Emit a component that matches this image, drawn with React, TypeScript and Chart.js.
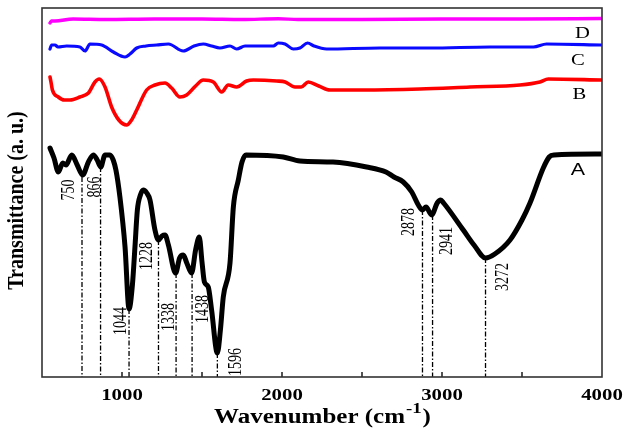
import React, { useEffect, useRef } from 'react';
import { Chart, registerables } from 'chart.js';

Chart.register(...registerables);

// ---- data (wavenumber in cm^-1, transmittance in arbitrary units) ----
const X_MIN = 500;
const X_MAX = 4000;
const Y_MIN = 0;
const Y_MAX = 369;

const xTickLabels = ['1000', '2000', '3000', '4000'];

const wnA = [550,575,602,630,650,686,720,754,790,821,845,867,894,925,945,962,987,1019,1044,1065,1081,1096,1115,1133,1155,1175,1206,1228,1250,1269,1290,1335,1360,1383,1405,1435,1460,1483,1500,1515,1539,1560,1596,1615,1633,1675,1696,1727,1750,1775,2008,2112,2319,2529,2650,2700,2758,2811,2852,2878,2900,2935,2970,2992,3010,3133,3200,3272,3330,3425,3500,3550,3633,3670,3700,4000];
const tA = [229,219,205,214,212,222,212,202,215,222,217,210,222,222,217,207,180,130,68,92,130,167,182,187,184,177,147,137,141,142,132,104,119,122,114,104,127,140,115,95,90,67,24,47,80,114,170,197,215,222,220,216,215,210,205,200,195,185,172,167,170,162,174,177,174,147,132,119,123,137,157,174,209,220,222,223];

const wnB = [550,556,565,602,640,675,737,790,831,858,894,935,980,1029,1060,1092,1154,1206,1269,1310,1362,1404,1460,1508,1571,1623,1664,1717,1779,1821,1967,2020,2081,2120,2164,2230,2300,2506,2862,3175,3487,3612,3664,4000];
const tB = [300,295,287,280,277,277,280,284,295,298,290,270,257,252,257,267,287,292,294,289,280,282,291,297,295,285,292,290,296,297,296,295,290,290,295,291,287,287,288,290,292,295,298,297];

const wnC = [550,560,581,600,654,737,769,800,873,946,1019,1050,1092,1150,1217,1290,1383,1450,1508,1560,1612,1675,1717,1769,1946,1977,2019,2071,2112,2160,2200,2279,2612,2925,3300,3571,3654,4000];
const tC = [328,332,332,330,331,330,326,333,332,325,320,323,329,331,332,333,326,331,333,331,329,331,328,331,331,334,333,328,329,334,331,328,329,329,330,330,333,332];

const wnD = [550,560,581,694,900,1200,1500,1750,1977,2100,2500,3000,3500,4000];
const tD = [354,356,356,358,357.5,358,358,357.5,358.3,357.5,357.5,358,358,358.5];

const seriesNames = ['A', 'B', 'C', 'D'];

const peakWn = [750, 866, 1044, 1228, 1338, 1438, 1596, 2878, 2941, 3272];
const peakTop = [200, 210, 68, 137, 104, 104, 24, 167, 162, 119];
const peakText = ['750', '866', '1044', '1228', '1338', '1438', '1596', '2878', '2941', '3272'];

// ---- layout (pixel offsets of the peak labels from the top of their dashed line) ----
const peakLabelOffset = [[-14,13],[-7,20],[-9,12],[-12,16],[-8,44],[10,36],[18,9],[-14,12],[13,26],[16,19]];

const toXY = (xs: number[], ys: number[]) => xs.map((x, i) => ({ x, y: ys[i] }));

function drawText(
  ctx: CanvasRenderingContext2D, text: string, x: number, y: number, font: string,
  sx: number, sy: number, rotate: boolean, align: CanvasTextAlign
) {
  ctx.save();
  ctx.translate(x, y);
  if (rotate) ctx.rotate(-Math.PI / 2);
  ctx.scale(sx, sy);
  ctx.font = font;
  ctx.textAlign = align;
  ctx.textBaseline = 'alphabetic';
  ctx.fillStyle = '#000';
  ctx.fillText(text, 0, 0);
  ctx.restore();
}

const SERIF = '"Liberation Serif", "Times New Roman", serif';
const SANS = '"Liberation Sans", Arial, sans-serif';

const decor = {
  id: 'decor',
  afterDraw(chart: any) {
    const { ctx, chartArea: a, scales } = chart;
    const xs = scales.x;
    const ys = scales.y;
    ctx.save();
    // inward ticks
    ctx.strokeStyle = '#1a1a1a';
    ctx.lineWidth = 1.5;
    xs.ticks.forEach((t: any) => {
      if (t.value <= X_MIN || t.value >= X_MAX) return;
      const px = xs.getPixelForValue(t.value);
      ctx.beginPath();
      ctx.moveTo(px, a.bottom);
      ctx.lineTo(px, a.bottom - 5);
      ctx.stroke();
    });
    // frame
    ctx.strokeStyle = '#333';
    ctx.lineWidth = 1.6;
    ctx.strokeRect(a.left, a.top, a.right - a.left, a.bottom - a.top);
    ctx.restore();

    // tick labels
    xTickLabels.forEach((lab) => {
      const px = xs.getPixelForValue(Number(lab));
      drawText(ctx, lab, px, a.bottom + 23, `bold 16px ${SERIF}`, 1.3, 1, false, 'center');
    });

    // x title with superscript
    {
      const sx = 1.25;
      const f1 = `bold 20px ${SERIF}`;
      const f2 = `bold 15px ${SERIF}`;
      ctx.save();
      ctx.font = f1;
      const w1 = ctx.measureText('Wavenumber (cm').width * sx;
      const w3 = ctx.measureText(')').width * sx;
      ctx.font = f2;
      const w2 = ctx.measureText('-1').width * sx;
      ctx.restore();
      const total = w1 + w2 + w3 + 2;
      const cx = (a.left + a.right) / 2 + 0.5;
      let x0 = cx - total / 2;
      const base = a.bottom + 46;
      drawText(ctx, 'Wavenumber (cm', x0, base, f1, sx, 1, false, 'left');
      x0 += w1 + 1;
      drawText(ctx, '-1', x0, base - 10, f2, sx, 1, false, 'left');
      x0 += w2 + 1;
      drawText(ctx, ')', x0, base, f1, sx, 1, false, 'left');
    }

    // y title
    drawText(ctx, 'Transmittance (a. u.)', 23, (a.top + a.bottom) / 2 + 8, `bold 20px ${SERIF}`, 1, 1.2, true, 'center');

    // series letters
    drawText(ctx, seriesNames[3], a.right - 19.5, a.top + 29.5, `16.5px ${SERIF}`, 1.25, 1, false, 'center');
    drawText(ctx, seriesNames[2], a.right - 24, a.top + 57, `16.5px ${SERIF}`, 1.25, 1, false, 'center');
    drawText(ctx, seriesNames[1], a.right - 22.5, a.top + 91, `16.5px ${SERIF}`, 1.25, 1, false, 'center');
    drawText(ctx, seriesNames[0], a.right - 24, a.top + 167, `16.5px ${SANS}`, 1.3, 1, false, 'center');

    // peak labels
    peakWn.forEach((wn, i) => {
      const px = xs.getPixelForValue(wn);
      const py = ys.getPixelForValue(peakTop[i]);
      const [dx, dy] = peakLabelOffset[i];
      drawText(ctx, peakText[i], px + dx + 6, py + dy, `14px ${SERIF}`, 1, 1.3, true, 'center');
    });
  },
};

export default function App() {
  const ref = useRef<HTMLCanvasElement | null>(null);

  useEffect(() => {
    if (!ref.current) return;
    const curve = (data: any, color: string, width: number) => ({
      data,
      borderColor: color,
      backgroundColor: color,
      borderWidth: width,
      pointRadius: 0,
      fill: false,
      cubicInterpolationMode: 'monotone' as const,
      borderJoinStyle: 'round' as const,
      borderCapStyle: 'round' as const,
      order: 1,
    });
    const dashes = peakWn.map((wn, i) => ({
      data: [{ x: wn, y: peakTop[i] }, { x: wn, y: Y_MIN }],
      borderColor: '#000',
      borderWidth: 1.3,
      borderDash: [5, 2, 1.5, 2],
      pointRadius: 0,
      fill: false,
      tension: 0,
      order: 5,
    }));
    const chart = new Chart(ref.current, {
      type: 'line',
      data: {
        datasets: [
          curve(toXY(wnA, tA), '#000000', 5),
          curve(toXY(wnB, tB), '#ff0000', 3.6),
          curve(toXY(wnC, tC), '#0a0aff', 3.2),
          curve(toXY(wnD, tD), '#ff00ff', 3.4),
          ...dashes,
        ] as any,
      },
      options: {
        responsive: false,
        animation: false,
        layout: { padding: { top: 8, right: 27, left: 0, bottom: 0 } },
        plugins: { legend: { display: false }, tooltip: { enabled: false } },
        scales: {
          x: {
            type: 'linear',
            min: X_MIN,
            max: X_MAX,
            ticks: { stepSize: 500, display: false },
            grid: { display: false },
            border: { display: false },
            afterFit: (s: any) => { s.height = 53; },
          },
          y: {
            type: 'linear',
            min: Y_MIN,
            max: Y_MAX,
            ticks: { display: false },
            grid: { display: false },
            border: { display: false },
            afterFit: (s: any) => { s.width = 42; },
          },
        },
      } as any,
      plugins: [decor],
    });
    return () => chart.destroy();
  }, []);

  return (
    <div style={{ position: 'fixed', left: 0, top: 0, width: 629, height: 430, background: '#fff' }}>
      <canvas ref={ref} width={629} height={430} style={{ width: 629, height: 430, display: 'block' }} />
    </div>
  );
}
